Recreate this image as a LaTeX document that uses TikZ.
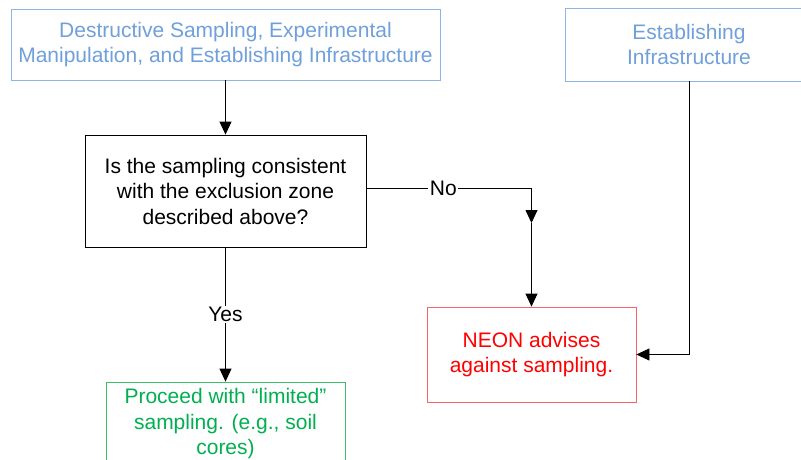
\documentclass[tikz,border=0pt]{standalone}
\usepackage{fontspec}
\setmainfont{Liberation Sans}
\usetikzlibrary{arrows.meta}
\definecolor{infoblue}{RGB}{112,160,220}
\definecolor{infoline}{RGB}{141,180,226}
\definecolor{okgreen}{RGB}{0,176,80}
\definecolor{okline}{RGB}{60,190,110}
\definecolor{stopred}{RGB}{255,0,0}
\definecolor{stopline}{RGB}{255,100,100}
\tikzset{
  box/.style={draw, rectangle, line width=0.8pt, inner sep=0pt, align=center,
    font=\fontsize{21}{25.5}\selectfont},
  infobox/.style={box, draw=infoline, text=infoblue},
  askbox/.style={box, draw=black, text=black},
  okbox/.style={box, draw=okline, text=okgreen},
  stopbox/.style={box, draw=stopline, text=stopred},
  conn/.style={draw=black, line width=0.8pt, -{Triangle[length=13pt,width=12pt]}},
  lbl/.style={fill=white, inner sep=1.5pt, text=black, font=\fontsize{21}{25.5}\selectfont},
}
\begin{document}
\begin{tikzpicture}[x=1pt, y=-1pt]
\useasboundingbox (0,0) rectangle (801,460);
\clip (0,0) rectangle (801,460);
\fill[white] (0,0) rectangle (801,460);

% boxes
\node[infobox, minimum width=429pt, minimum height=71pt] (dest) at (225.5,44.5)
  {Destructive Sampling, Experimental\\Manipulation, and Establishing Infrastructure};
\node[infobox, minimum width=248pt, minimum height=73pt] (estab) at (689,44.5)
  {Establishing\\Infrastructure};
\node[askbox, minimum width=281pt, minimum height=112pt] (q) at (225.5,191)
  {Is the sampling consistent\\with the exclusion zone\\described above?};
\node[stopbox, minimum width=209pt, minimum height=95pt] (neon) at (531.5,354.5)
  {NEON advises\\against sampling.};
\node[okbox, minimum width=239pt, minimum height=84pt] (go) at (225.5,424)
  {Proceed with “limited”\\sampling. (e.g., soil\\cores)};

% connectors
\draw[conn] (dest.south) -- (q.north);
\coordinate (nostart) at ([yshift=3pt]q.east);
\coordinate (nomid) at (neon.north |- 0,223);
\draw[conn] (nostart) -| node[lbl, pos=0.233] {No} (nomid);
\draw[conn] (nomid) -- (neon.north);
\draw[conn] (q.south) -- node[lbl, pos=0.5] {Yes} (go.north);
\draw[conn] (estab.south) |- (neon.east);
\end{tikzpicture}
\end{document}
